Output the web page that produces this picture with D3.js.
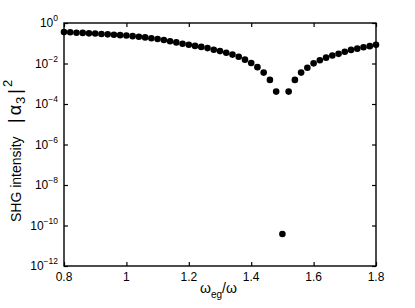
<!DOCTYPE html>
<meta charset="utf-8">
<style>
body { margin: 0; background: #fff; }
svg text { font-family: "Liberation Sans", Arial, sans-serif; fill: #000; }
.axis path { display: none; }
.axis line { stroke: #000; stroke-width: 1.2px; }
</style>
<svg width="415" height="308"></svg>
<script src="https://cdnjs.cloudflare.com/ajax/libs/d3/7.8.5/d3.min.js"></script>
<script>

// omega_eg / omega
var ratio = [0.80, 0.82, 0.84, 0.86, 0.88, 0.90, 0.92, 0.94, 0.96, 0.98,
             1.00, 1.02, 1.04, 1.06, 1.08, 1.10, 1.12, 1.14, 1.16, 1.18,
             1.20, 1.22, 1.24, 1.26, 1.28, 1.30, 1.32, 1.34, 1.36, 1.38,
             1.40, 1.42, 1.44, 1.46, 1.48, 1.50, 1.52, 1.54, 1.56, 1.58,
             1.60, 1.62, 1.64, 1.66, 1.68, 1.70, 1.72, 1.74, 1.76, 1.78, 1.80];

// SHG intensity |alpha_3|^2
var shg = [3.55e-1, 3.47e-1, 3.31e-1, 3.24e-1, 3.09e-1, 3.02e-1, 2.88e-1, 2.75e-1, 2.63e-1, 2.51e-1,
           2.40e-1, 2.24e-1, 2.09e-1, 1.95e-1, 1.78e-1, 1.62e-1, 1.45e-1, 1.26e-1, 1.10e-1, 9.5e-2,
           8.5e-2, 7.4e-2, 6.6e-2, 5.75e-2, 4.8e-2, 4.1e-2, 3.4e-2, 2.75e-2, 2.14e-2, 1.55e-2,
           1.05e-2, 6.6e-3, 3.55e-3, 1.55e-3, 4.1e-4, 3.8e-11, 4.1e-4, 1.55e-3, 3.55e-3, 6.2e-3,
           1.02e-2, 1.45e-2, 1.95e-2, 2.5e-2, 3.0e-2, 3.8e-2, 4.7e-2, 5.4e-2, 6.3e-2, 7.2e-2, 8.5e-2];

var xTicks = [0.8, 1, 1.2, 1.4, 1.6, 1.8];
var xTickLabels = ["0.8", "1", "1.2", "1.4", "1.6", "1.8"];
var yExponents = [0, -2, -4, -6, -8, -10, -12];

var svg = d3.select("svg"),
    pLeft = 64, pRight = 376, pTop = 23, pBottom = 266;

var x = d3.scaleLinear().domain([0.8, 1.8]).range([pLeft, pRight]);
var y = d3.scaleLog().domain([1e-12, 1]).range([pBottom, pTop]);

var yTicks = yExponents.map(function(e) { return Math.pow(10, e); });

// ticks on all four sides, pointing in
svg.append("g").attr("class", "axis")
   .attr("transform", "translate(0," + pBottom + ")")
   .call(d3.axisBottom(x).tickValues(xTicks).tickSize(-4).tickFormat(""));
svg.append("g").attr("class", "axis")
   .attr("transform", "translate(0," + pTop + ")")
   .call(d3.axisTop(x).tickValues(xTicks).tickSize(-4).tickFormat(""));
svg.append("g").attr("class", "axis")
   .attr("transform", "translate(" + pLeft + ",0)")
   .call(d3.axisLeft(y).tickValues(yTicks).tickSize(-4).tickFormat(""));
svg.append("g").attr("class", "axis")
   .attr("transform", "translate(" + pRight + ",0)")
   .call(d3.axisRight(y).tickValues(yTicks).tickSize(-4).tickFormat(""));

svg.append("rect")
   .attr("x", pLeft).attr("y", pTop)
   .attr("width", pRight - pLeft).attr("height", pBottom - pTop)
   .attr("fill", "none").attr("stroke", "#000").attr("stroke-width", 1.4);

// x tick labels
svg.selectAll(".xl").data(xTicks).enter().append("text")
   .attr("class", "xl")
   .attr("x", function(d) { return x(d); })
   .attr("y", pBottom + 15)
   .attr("text-anchor", "middle")
   .attr("font-size", 12)
   .text(function(d, i) { return xTickLabels[i]; });

// y tick labels 10^n
var yl = svg.selectAll(".yl").data(yExponents).enter().append("text")
   .attr("class", "yl")
   .attr("x", pLeft - 6)
   .attr("y", function(d) { return y(Math.pow(10, d)) + 4; })
   .attr("text-anchor", "end")
   .attr("font-size", 12);
yl.append("tspan").text("10");
yl.append("tspan").attr("font-size", 8.5).attr("dy", -6)
  .text(function(d) { return d === 0 ? "0" : "\u2212" + (-d); });

// points
svg.selectAll("circle").data(ratio).enter().append("circle")
   .attr("cx", function(d) { return x(d); })
   .attr("cy", function(d, i) { return y(shg[i]); })
   .attr("r", 3.3)
   .attr("fill", "#000");

// x axis label
var xt = svg.append("text")
   .attr("x", 200).attr("y", 293)
   .attr("font-size", 14);
xt.append("tspan").text("\u03c9");
xt.append("tspan").attr("font-size", 10).attr("dy", 5).text("eg");
xt.append("tspan").attr("dy", -5).text("/\u03c9");

// y axis label
svg.append("text")
   .attr("transform", "translate(21,222) rotate(-90)")
   .attr("font-size", 14)
   .text("SHG intensity");
var yt = svg.append("text")
   .attr("transform", "translate(21,123) rotate(-90)")
   .attr("font-size", 18);
yt.append("tspan").text("|");
yt.append("tspan").attr("dx", 3).text("\u03b1");
yt.append("tspan").attr("font-size", 13).attr("dy", 4).attr("dx", 1).text("3");
yt.append("tspan").attr("dy", -4).attr("dx", 3).text("|");
yt.append("tspan").attr("font-size", 13).attr("dy", -9).attr("dx", 2).text("2");

</script>
